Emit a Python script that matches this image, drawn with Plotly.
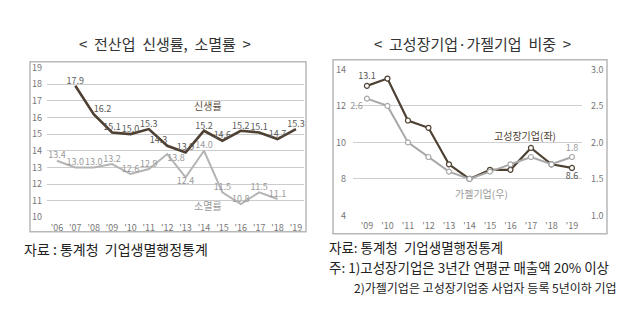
import plotly.graph_objects as go

W, H = 640, 328
FONT = "Noto Sans CJK KR"

# ---------------- data ----------------
years_left = ["'06", "'07", "'08", "'09", "'10", "'11", "'12", "'13", "'14", "'15", "'16", "'17", "'18", "'19"]
birth_rate = [None, 17.9, 16.2, 15.1, 15.0, 15.3, 14.3, 13.9, 15.2, 14.6, 15.2, 15.1, 14.7, 15.3]
death_rate = [13.4, 13.0, 13.0, 13.2, 12.6, 12.9, 13.8, 12.4, 14.0, 11.5, 10.8, 11.5, 11.1, None]

years_right = ["'09", "'10", "'11", "'12", "'13", "'14", "'15", "'16", "'17", "'18", "'19"]
high_growth = [13.1, 13.5, 11.2, 10.8, 8.8, 8.0, 8.5, 8.5, 9.7, 8.8, 8.6]
gazelle = [2.6, 2.5, 2.0, 1.8, 1.6, 1.5, 1.6, 1.7, 1.8, 1.7, 1.8]

left_yticks = [10, 11, 12, 13, 14, 15, 16, 17, 18, 19]
right_left_ticks = [6, 8, 10, 12, 14]
right_left_ticktext = ["4", "8", "10", "12", "14"]
right_right_ticks = [1.0, 1.5, 2.0, 2.5, 3.0]

def px(x):
    return x / W

def py(y):
    return 1 - y / H

def fmt(v):
    return "" if v is None else f"{v:.1f}"

DARK = "#4e4032"
GREY = "#a8a8a8"

fig = go.Figure()

# ---------------- left chart ----------------
xl = list(range(len(years_left)))
birth_pos = ["top center", "top center", "top right", "top center", "top center", "top center",
             "top left", "top center", "top center", "top center", "top center", "top center",
             "top center", "top center"]
death_pos = ["top center"] * 6 + ["bottom right", "bottom center"] + ["top center"] * 6

fig.add_trace(go.Scatter(
    x=xl, y=death_rate, mode="lines+text", text=[fmt(v) for v in death_rate],
    textposition=death_pos, textfont=dict(family=FONT, size=9, color="#9a9a9a"),
    line=dict(color="#b4b4b4", width=2), xaxis="x", yaxis="y", showlegend=False,
    cliponaxis=False))
fig.add_trace(go.Scatter(
    x=xl, y=birth_rate, mode="lines+text", text=[fmt(v) for v in birth_rate],
    textposition=birth_pos, textfont=dict(family=FONT, size=9, color="#5a5a5a"),
    line=dict(color=DARK, width=2.6), xaxis="x", yaxis="y", showlegend=False,
    cliponaxis=False))

# ---------------- right chart ----------------
xr = list(range(len(years_right)))
hg_text = [fmt(high_growth[0])] + [""] * (len(xr) - 2) + [fmt(high_growth[-1])]
gz_text = [fmt(gazelle[0])] + [""] * (len(xr) - 2) + [fmt(gazelle[-1])]
hg_pos = ["top center"] + ["top center"] * (len(xr) - 2) + ["bottom center"]
gz_pos = ["bottom left"] + ["top center"] * (len(xr) - 2) + ["top center"]

fig.add_trace(go.Scatter(
    x=xr, y=gazelle, mode="lines+markers+text", text=gz_text, textposition=gz_pos,
    textfont=dict(family=FONT, size=9, color="#9a9a9a"),
    line=dict(color=GREY, width=2),
    marker=dict(symbol="circle", size=5, color="white", line=dict(color=GREY, width=1.2)),
    xaxis="x2", yaxis="y3", showlegend=False, cliponaxis=False))
fig.add_trace(go.Scatter(
    x=xr, y=high_growth, mode="lines+markers+text", text=hg_text, textposition=hg_pos,
    textfont=dict(family=FONT, size=9, color="#555555"),
    line=dict(color=DARK, width=2.2),
    marker=dict(symbol="circle", size=5, color="white", line=dict(color=DARK, width=1.2)),
    xaxis="x2", yaxis="y2", showlegend=False, cliponaxis=False))

tickfont = dict(family=FONT, size=9, color="#777777")

fig.update_layout(
    width=W, height=H, margin=dict(l=0, r=0, t=0, b=0),
    paper_bgcolor="white", plot_bgcolor="white",
    font=dict(family=FONT),
    xaxis=dict(domain=[px(47), px(304)], anchor="y", range=[-0.54, 13.44],
               tickmode="array", tickvals=xl, ticktext=years_left,
               showgrid=False, zeroline=False, showline=False, ticks="",
               tickfont=tickfont, ticklabelstandoff=4, fixedrange=True),
    yaxis=dict(domain=[py(219), py(63)], anchor="x", range=[10, 19],
               tickmode="array", tickvals=left_yticks,
               showgrid=True, gridcolor="#cccccc", gridwidth=1.2, zeroline=False,
               showline=False, ticks="", tickfont=tickfont, ticklabelstandoff=4),
    xaxis2=dict(domain=[px(353), px(582)], anchor="y2", range=[-0.68, 10.49],
                tickmode="array", tickvals=xr, ticktext=years_right,
                showgrid=False, zeroline=False, showline=False, ticks="",
                tickfont=tickfont, ticklabelstandoff=4),
    yaxis2=dict(domain=[py(217), py(65)], anchor="x2", range=[6, 14],
                tickmode="array", tickvals=right_left_ticks, ticktext=right_left_ticktext,
                showgrid=True, gridcolor="#cfcfcf", gridwidth=1.2, zeroline=False,
                showline=False, ticks="", tickfont=tickfont, ticklabelstandoff=6),
    yaxis3=dict(overlaying="y2", side="right", anchor="x2", range=[1.0, 3.0],
                tickmode="array", tickvals=right_right_ticks, tickformat=".1f",
                showgrid=False, zeroline=False, showline=False, ticks="",
                tickfont=tickfont, ticklabelstandoff=8),
)

# frames
fig.add_shape(type="rect", xref="paper", yref="paper",
              x0=px(30), x1=px(306), y0=py(234), y1=py(57),
              line=dict(color="#b8b8b8", width=1.5), fillcolor="rgba(0,0,0,0)", layer="below")
fig.add_shape(type="rect", xref="paper", yref="paper",
              x0=px(333), x1=px(607), y0=py(236), y1=py(55),
              line=dict(color="#b8b8b8", width=1.5), fillcolor="rgba(0,0,0,0)", layer="below")

def note(text, x, y, size, color="#222222", xanchor="center"):
    fig.add_annotation(text=text, xref="paper", yref="paper", x=px(x), y=py(y),
                       xanchor=xanchor, yanchor="middle", showarrow=False,
                       font=dict(family=FONT, size=size, color=color))

# titles
note("<  전산업  신생률,  소멸률  >", 165, 38, 15, "#333333")
note("<  고성장기업·가젤기업  비중  >", 472, 38, 15, "#333333")

# series labels
fig.add_annotation(text="신생률", xref="x", yref="y", x=8.2, y=16.7, showarrow=False,
                   font=dict(family=FONT, size=10, color="#5a4a3a"))
fig.add_annotation(text="소멸률", xref="x", yref="y", x=8.2, y=10.7, showarrow=False,
                   font=dict(family=FONT, size=10, color="#999999"))
fig.add_annotation(text="고성장기업(좌)", xref="x2", yref="y2", x=7.7, y=10.4, showarrow=False,
                   font=dict(family=FONT, size=10, color="#4e4032"))
fig.add_annotation(text="가젤기업(우)", xref="x2", yref="y2", x=5.6, y=7.2, showarrow=False,
                   font=dict(family=FONT, size=10, color="#999999"))

# footnotes
note("자료 : 통계청  기업생멸행정통계", 22, 252, 14, xanchor="left")
note("자료: 통계청  기업생멸행정통계", 327, 250, 13.5, xanchor="left")
note("주: 1)고성장기업은 3년간 연평균 매출액 20% 이상", 327, 271, 13.5, xanchor="left")
note("2)가젤기업은 고성장기업중 사업자 등록 5년이하 기업", 352, 292, 12, xanchor="left")

fig.write_html("out.html")
